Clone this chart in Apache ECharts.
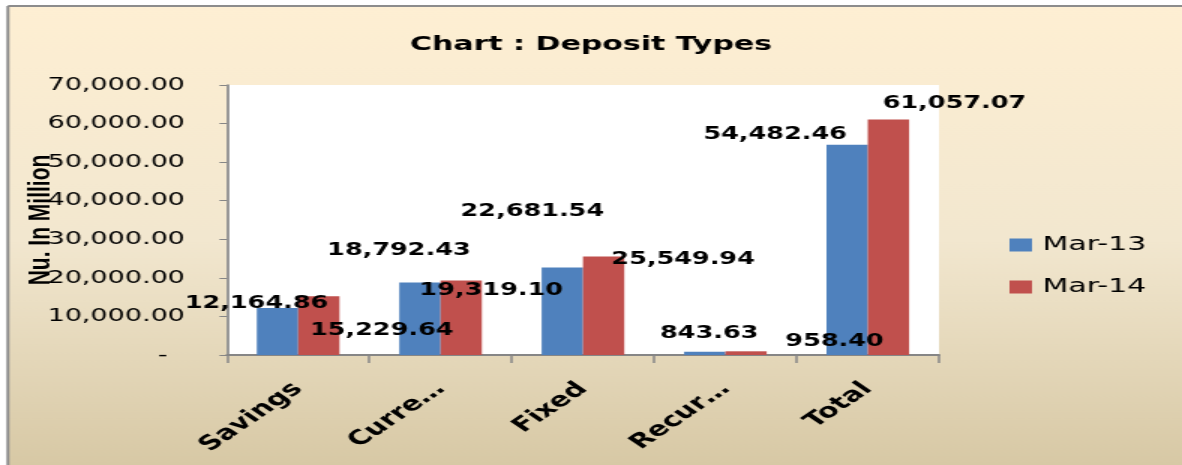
<!DOCTYPE html>
<html>
<head>
<meta charset="utf-8">
<script src="https://cdn.jsdelivr.net/npm/echarts@6/dist/echarts.min.js"></script>
<style>
  html, body { margin: 0; padding: 0; background: #fff; overflow: hidden; }
  /* the source picture is a stretched Excel chart, so draw narrow and stretch */
  #myCharts { width: 788px; height: 465px; transform: scaleX(1.5); transform-origin: 0 0; }
</style>
</head>
<body>
<div id="myCharts"></div>
<script>
// data
const categories = ["Savings", "Curre…", "Fixed", "Recur…", "Total"];
const mar13 = [12164.86, 18792.43, 22681.54, 843.63, 54482.46];
const mar14 = [15229.64, 19319.1, 25549.94, 958.4, 61057.07];
const yTicks = [0, 10000, 20000, 30000, 40000, 50000, 60000, 70000];

// where Excel dropped each data label (offset from the bar top)
const shift13 = [[-14, 9], [-14, -18], [-20, -42], [3, -5], [-48, 3]];
const shift14 = [[42, 48], [20, 24], [53, 17], [59, 4], [44, -2]];

function fmt(v) {
  const parts = v.toFixed(2).split(".");
  parts[0] = parts[0].replace(/\B(?=(\d{3})+(?!\d))/g, ",");
  return parts.join(".");
}

const myCharts = echarts.init(document.getElementById("myCharts"));
const font = "DejaVu Sans";

function seriesData(values, shifts) {
  return values.map((v, i) => ({ value: v, label: { offset: shifts[i] } }));
}

const labelStyle = {
  show: true,
  position: "top",
  distance: 5,
  color: "#000",
  fontFamily: font,
  fontWeight: "bold",
  fontSize: 17,
  formatter: p => fmt(p.value)
};

let option = {
  animation: false,
  graphic: [
    {
      type: "rect",
      z: -10,
      shape: { x: 5.3, y: 6, width: 800, height: 470 },
      style: {
        fill: new echarts.graphic.LinearGradient(0, 0, 0, 1, [
          { offset: 0, color: "#FEEFD3" },
          { offset: 0.5, color: "#F2E7CF" },
          { offset: 1, color: "#D6C7A3" }
        ])
      }
    },
    {
      type: "line",
      z: -9,
      shape: { x1: 5.3, y1: 6, x2: 800, y2: 6 },
      style: { stroke: "#8C8C8C", lineWidth: 2 }
    },
    {
      type: "line",
      z: -9,
      shape: { x1: 5.3, y1: 6, x2: 5.3, y2: 470 },
      style: { stroke: "#8C8C8C", lineWidth: 2 }
    }
  ],
  title: {
    text: "Chart : Deposit Types",
    left: "center",
    top: 30,
    textStyle: { fontFamily: font, fontWeight: "bold", fontSize: 20, color: "#000" }
  },
  color: ["#4F81BD", "#C0504D"],
  legend: {
    orient: "vertical",
    left: 668,
    top: 230,
    itemWidth: 15,
    itemHeight: 13,
    itemGap: 22,
    icon: "rect",
    textStyle: { fontFamily: font, fontSize: 20, color: "#000", padding: [0, 0, 0, 2] },
    data: ["Mar-13", "Mar-14"]
  },
  grid: {
    left: 151.3,
    right: 162,
    top: 85,
    bottom: 110,
    show: true,
    backgroundColor: "#fff",
    borderWidth: 0,
    outerBoundsMode: "none"
  },
  xAxis: {
    type: "category",
    data: categories,
    axisLine: { lineStyle: { color: "#868686", width: 2 } },
    axisTick: { show: true, length: 8, lineStyle: { color: "#868686", width: 1.5 } },
    axisLabel: {
      interval: 0,
      rotate: 45,
      margin: 31,
      color: "#000",
      fontFamily: font,
      fontWeight: "bold",
      fontSize: 20
    }
  },
  yAxis: {
    type: "value",
    min: yTicks[0],
    max: yTicks[yTicks.length - 1],
    interval: yTicks[1] - yTicks[0],
    name: "Nu. In Million",
    nameLocation: "middle",
    nameRotate: 90,
    nameGap: 114,
    nameMoveOverlap: false,
    nameTextStyle: { fontFamily: "Liberation Sans", fontWeight: "bold", fontSize: 21, color: "#000" },
    splitLine: { show: false },
    axisLine: { show: true, lineStyle: { color: "#868686", width: 1.7 } },
    axisTick: { show: true, length: 5, lineStyle: { color: "#868686" } },
    axisLabel: {
      margin: 28,
      color: "#000",
      fontFamily: font,
      fontSize: 18,
      formatter: v => (v === 0 ? "-  " : fmt(v))
    }
  },
  series: [
    {
      name: "Mar-13",
      type: "bar",
      barGap: "0%",
      barCategoryGap: "42%",
      data: seriesData(mar13, shift13),
      label: labelStyle
    },
    {
      name: "Mar-14",
      type: "bar",
      barGap: "0%",
      barCategoryGap: "42%",
      data: seriesData(mar14, shift14),
      label: labelStyle
    }
  ]
};
myCharts.setOption(option);
</script>
</body>
</html>
